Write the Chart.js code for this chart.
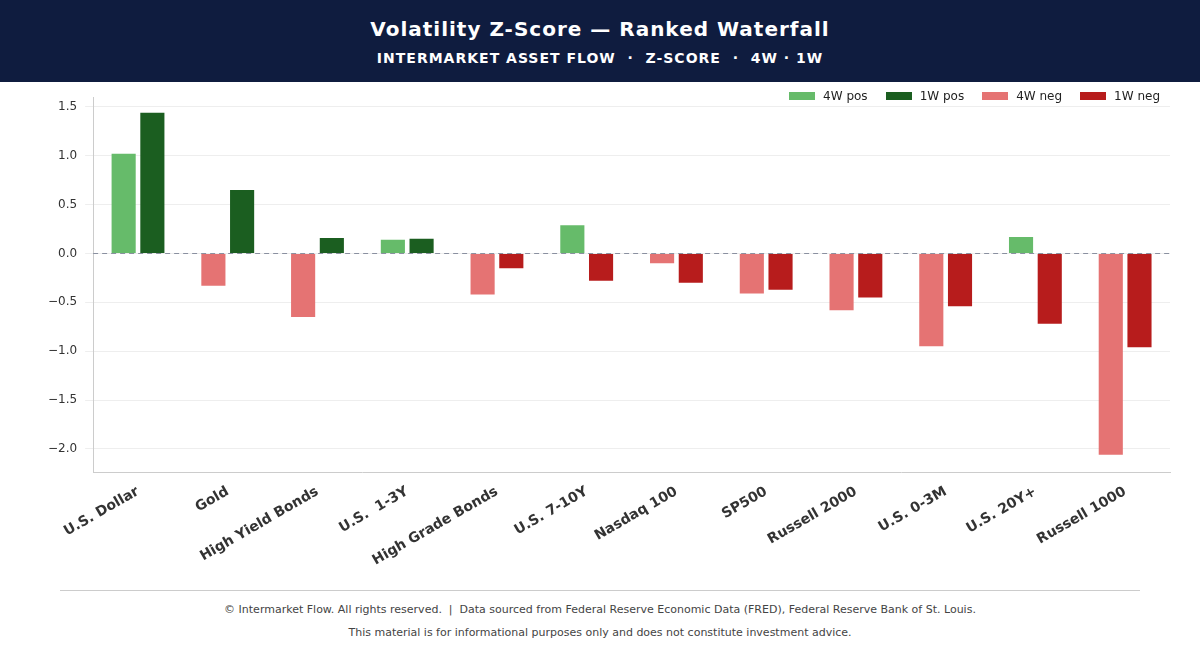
<!DOCTYPE html>
<html><head><meta charset="utf-8">
<script src="https://cdn.jsdelivr.net/npm/chart.js@4"></script>
<style>
html,body{margin:0;padding:0;background:#fff;font-family:"DejaVu Sans",sans-serif;}
#hdr{height:82px;background:#0f1c3f;color:#fff;text-align:center;}
#t1{padding-top:17px;font-size:20px;font-weight:bold;letter-spacing:1px;}
#t2{margin-top:9px;font-size:14px;font-weight:bold;letter-spacing:1px;}
#wrap{position:relative;width:1200px;height:508px;}
#leg{position:absolute;top:7px;right:40px;font-size:12px;color:#222;display:flex;gap:18px;}
#leg span{display:inline-flex;align-items:center;}
#leg i{display:inline-block;width:26px;height:8px;margin-right:8px;}
#foot{border-top:1px solid #ccc;margin:0 60px;text-align:center;color:#444;font-size:11px;}
#foot div{margin-top:10px;}
</style></head><body>
<div id="hdr"><div id="t1">Volatility Z-Score — Ranked Waterfall</div><div id="t2">INTERMARKET ASSET FLOW &nbsp;·&nbsp; Z-SCORE &nbsp;·&nbsp; 4W · 1W</div></div>
<div id="wrap"><canvas id="c"></canvas><div id="leg"></div></div>
<div id="foot"><div style="margin-top:12px">© Intermarket Flow. All rights reserved. &nbsp;| &nbsp;Data sourced from Federal Reserve Economic Data (FRED), Federal Reserve Bank of St. Louis.</div><div>This material is for informational purposes only and does not constitute investment advice.</div></div>
<script>
const categories=["U.S. Dollar","Gold","High Yield Bonds","U.S.  1-3Y","High Grade Bonds","U.S. 7-10Y","Nasdaq 100","SP500","Russell 2000","U.S. 0-3M","U.S. 20Y+","Russell 1000"];
const w4=[1.02,-0.33,-0.65,0.14,-0.42,0.29,-0.10,-0.41,-0.58,-0.95,0.17,-2.06];
const w1=[1.44,0.65,0.16,0.15,-0.15,-0.28,-0.30,-0.37,-0.45,-0.54,-0.72,-0.96];
const pos=a=>a.map(v=>v>=0?v:null), neg=a=>a.map(v=>v<0?v:null);
Chart.defaults.font.family='"DejaVu Sans", sans-serif';
const zeroLine={id:'z',afterDatasetsDraw(ch){const y=ch.scales.y.getPixelForValue(0),a=ch.chartArea,c=ch.ctx;c.save();c.strokeStyle='#8a90a0';c.setLineDash([5,4]);c.lineWidth=1;c.beginPath();c.moveTo(a.left,y);c.lineTo(a.right,y);c.stroke();c.restore();}};
const ds=(l,d,col,s)=>({label:l,data:d,backgroundColor:col,stack:s,categoryPercentage:0.64,barPercentage:0.84});
const ch=new Chart(document.getElementById('c'),{type:'bar',
data:{labels:categories,datasets:[ds('4W pos',pos(w4),'#66bb6a','a'),ds('1W pos',pos(w1),'#1b5e20','b'),ds('4W neg',neg(w4),'#e57373','a'),ds('1W neg',neg(w1),'#b71c1c','b')]},
options:{responsive:true,maintainAspectRatio:false,animation:false,
layout:{padding:{left:40,right:30,top:1,bottom:18}},
plugins:{legend:{display:false},tooltip:{enabled:false}},
scales:{x:{stacked:true,grid:{display:false},border:{color:'#ccc'},ticks:{maxRotation:30,minRotation:30,font:{size:14,weight:'bold'},color:'#333'}},
y:{stacked:true,min:-2.24,max:1.6,grid:{color:'#eee'},border:{color:'#ccc'},
afterBuildTicks(s){s.ticks=[-2,-1.5,-1,-0.5,0,0.5,1,1.5].map(v=>({value:v}));},
ticks:{font:{size:12},color:'#333',padding:8,callback:v=>(v<0?'−':'')+Math.abs(v).toFixed(1)}}}},
plugins:[zeroLine]});
document.getElementById('leg').innerHTML=ch.data.datasets.map(d=>`<span><i style="background:${d.backgroundColor}"></i>${d.label}</span>`).join('');
</script></body></html>
